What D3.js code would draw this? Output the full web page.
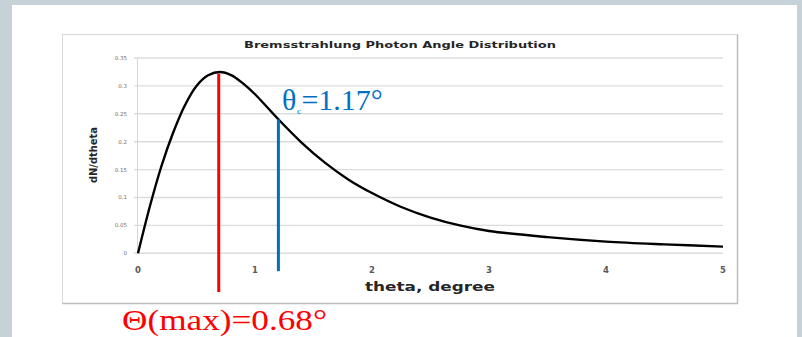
<!DOCTYPE html>
<meta charset="utf-8">
<script src="https://d3js.org/d3.v7.min.js"></script>
<style>
  body { margin: 0; background: #c6d1d8; }
</style>
<div id="my_dataviz"></div>
<script>

// values
var thetaDeg = [0, 0.1, 0.2, 0.3, 0.4, 0.5, 0.6, 0.7, 0.8, 0.9, 1.0, 1.2, 1.4, 1.6, 1.8, 2.0, 2.25, 2.5, 2.75, 3.0, 3.5, 4.0, 4.5, 5.0];
var dNdtheta = [0, 0.083, 0.156, 0.216, 0.265, 0.300, 0.319, 0.325, 0.319, 0.304, 0.285, 0.240, 0.198, 0.162, 0.132, 0.108, 0.083, 0.064, 0.050, 0.040, 0.029, 0.021, 0.016, 0.012];
var xTicks = [0, 1, 2, 3, 4, 5];
var yTicks = [0, 0.05, 0.1, 0.15, 0.2, 0.25, 0.3, 0.35];
var yTickLabels = ["0", "0.05", "0.1", "0.15", "0.2", "0.25", "0.3", "0.35"];
// annotation markers: position on x, top and bottom value on y
var markerTheta = [0.69, 1.2];
var markerTop = [0.322, 0.24];
var markerBottom = [-0.0695, -0.032];
var markerColor = ["#ff0000", "#0070c0"];

var W = 802, H = 337;

var svg = d3.select("#my_dataviz")
  .append("svg")
    .attr("width", W)
    .attr("height", H)
    .style("display", "block");

// white slide panel
svg.append("rect")
  .attr("x", 12).attr("y", 5)
  .attr("width", 785).attr("height", H)
  .attr("fill", "#ffffff");

// chart frame
svg.append("rect")
  .attr("x", 62.5).attr("y", 34.5)
  .attr("width", 675).attr("height", 269)
  .attr("fill", "#ffffff")
  .attr("stroke", "#d9d9d9");
svg.append("path")
  .attr("d", "M737.5,34.5V303.5H62.5")
  .attr("fill", "none")
  .attr("stroke", "#bdbdbd")
  .attr("stroke-width", 1.5);

var x = d3.scaleLinear().domain([0, 5]).range([138, 723]);
var y = d3.scaleLinear().domain([0, 0.35]).range([253.3, 58]);

// gridlines
svg.append("g")
  .selectAll("line")
  .data(yTicks)
  .enter().append("line")
    .attr("x1", x(0) - 4)
    .attr("x2", x(5))
    .attr("y1", function(d) { return y(d); })
    .attr("y2", function(d) { return y(d); })
    .attr("stroke", "#dcdcdc")
    .attr("stroke-width", 1.4);

// y axis line
svg.append("line")
  .attr("x1", x(0) - 0.5).attr("x2", x(0) - 0.5)
  .attr("y1", y(0.35)).attr("y2", y(0))
  .attr("stroke", "#d6d6d6");

// y tick labels
svg.append("g")
  .selectAll("text")
  .data(yTicks)
  .enter().append("text")
    .attr("x", 127)
    .attr("y", function(d) { return y(d); })
    .attr("dy", "0.35em")
    .attr("text-anchor", "end")
    .style("font-family", "DejaVu Sans")
    .style("font-size", "5.5px")
    .style("fill", "#707070")
    .text(function(d, i) { return yTickLabels[i]; });

// x tick labels
svg.append("g")
  .selectAll("text")
  .data(xTicks)
  .enter().append("text")
    .attr("x", function(d) { return x(d); })
    .attr("y", 270)
    .attr("dy", "0.35em")
    .attr("text-anchor", "middle")
    .style("font-family", "DejaVu Sans")
    .style("font-weight", "bold")
    .style("font-size", "8.5px")
    .style("fill", "#595959")
    .text(function(d) { return d; });

// title
svg.append("text")
  .attr("x", 400)
  .attr("y", 48)
  .attr("text-anchor", "middle")
  .attr("textLength", 312)
  .attr("lengthAdjust", "spacingAndGlyphs")
  .style("font-family", "DejaVu Sans")
  .style("font-weight", "bold")
  .style("font-size", "9.5px")
  .style("fill", "#262626")
  .text("Bremsstrahlung Photon Angle Distribution");

// axis titles
svg.append("text")
  .attr("x", 430)
  .attr("y", 291)
  .attr("text-anchor", "middle")
  .attr("textLength", 130)
  .attr("lengthAdjust", "spacingAndGlyphs")
  .style("font-family", "DejaVu Sans")
  .style("font-weight", "bold")
  .style("font-size", "12px")
  .style("fill", "#262626")
  .text("theta, degree");

svg.append("text")
  .attr("transform", "translate(97,155) rotate(-90)")
  .attr("text-anchor", "middle")
  .attr("textLength", 56)
  .attr("lengthAdjust", "spacingAndGlyphs")
  .style("font-family", "DejaVu Sans")
  .style("font-weight", "bold")
  .style("font-size", "10px")
  .style("fill", "#262626")
  .text("dN/dtheta");

// the curve
svg.append("path")
  .datum(thetaDeg)
  .attr("fill", "none")
  .attr("stroke", "#000000")
  .attr("stroke-width", 2.4)
  .attr("d", d3.line()
    .x(function(d) { return x(d); })
    .y(function(d, i) { return y(dNdtheta[i]); })
    .curve(d3.curveCatmullRom));

// marker lines
svg.append("g")
  .selectAll("line")
  .data(markerTheta)
  .enter().append("line")
    .attr("x1", function(d) { return x(d); })
    .attr("x2", function(d) { return x(d); })
    .attr("y1", function(d, i) { return y(markerTop[i]); })
    .attr("y2", function(d, i) { return y(markerBottom[i]); })
    .attr("stroke", function(d, i) { return markerColor[i]; })
    .attr("stroke-width", 3);

// annotations
var blue = svg.append("text")
  .attr("x", 282)
  .attr("y", 110)
  .style("font-family", "Liberation Serif")
  .style("font-size", "30px")
  .style("fill", "#0070c0");
blue.append("tspan").text("θ");
blue.append("tspan").attr("dy", 4).attr("dx", 0.5).style("font-size", "9px").text("c");
blue.append("tspan").attr("dy", -4).attr("dx", 0.5).text("=1.17°");

svg.append("text")
  .attr("x", 122)
  .attr("y", 330)
  .attr("textLength", 205)
  .attr("lengthAdjust", "spacingAndGlyphs")
  .style("font-family", "Liberation Serif")
  .style("font-size", "30px")
  .style("fill", "#ff0000")
  .text("Θ(max)=0.68°");

</script>
